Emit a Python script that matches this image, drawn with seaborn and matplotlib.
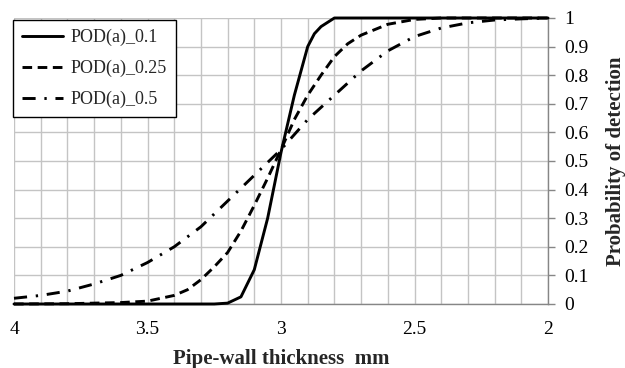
import matplotlib
matplotlib.use("Agg")
import matplotlib.pyplot as plt
import seaborn as sns
import numpy as np
import pandas as pd
from matplotlib.lines import Line2D
from matplotlib.ticker import MultipleLocator, FuncFormatter

# ---- data ----
x_01 = [4.0, 3.5, 3.25, 3.2, 3.15, 3.1, 3.05, 3.0, 2.95, 2.9, 2.875, 2.85, 2.8, 2.5, 2.0]
pod_01 = [0.0, 0.0, 0.0, 0.003, 0.025, 0.12, 0.30, 0.53, 0.73, 0.90, 0.945, 0.97, 1.0, 1.0, 1.0]

x_025 = [4.0, 3.8, 3.6, 3.5, 3.45, 3.4, 3.35, 3.3, 3.25, 3.2, 3.15, 3.1, 3.05, 3.0,
         2.95, 2.9, 2.85, 2.8, 2.75, 2.7, 2.6, 2.5, 2.4, 2.0]
pod_025 = [0.0, 0.001, 0.005, 0.01, 0.02, 0.03, 0.05, 0.085, 0.13, 0.18, 0.255, 0.345,
           0.44, 0.54, 0.645, 0.73, 0.80, 0.865, 0.91, 0.94, 0.978, 0.995, 1.0, 1.0]

x_05 = [4.0, 3.9, 3.8, 3.7, 3.6, 3.5, 3.4, 3.3, 3.2, 3.1, 3.0, 2.9, 2.8, 2.7,
        2.6, 2.5, 2.4, 2.3, 2.2, 2.1, 2.0]
pod_05 = [0.02, 0.03, 0.045, 0.07, 0.10, 0.145, 0.20, 0.27, 0.36, 0.45, 0.54, 0.645,
          0.73, 0.815, 0.885, 0.935, 0.965, 0.983, 0.993, 0.997, 1.0]

series_names = ["POD(a)_0.1", "POD(a)_0.25", "POD(a)_0.5"]

# ---- style ----
sns.set_theme(style="white")
plt.rcParams['font.family'] = ['Liberation Serif', 'DejaVu Serif']

fig = plt.figure(figsize=(6.25, 3.68), dpi=100)
ax = fig.add_axes([14/625, 1-304/368, (548-14)/625, (304-18)/368])

dash_styles = [None, (3.3, 1.9), (4.5, 3.0, 0.8, 3.0)]
series = [(x_01, pod_01), (x_025, pod_025), (x_05, pod_05)]
handles = []
for (xs, ys), name, ds in zip(series, series_names, dash_styles):
    df = pd.DataFrame({"thickness": xs, "pod": ys})
    before = len(ax.lines)
    sns.lineplot(data=df, x="thickness", y="pod", ax=ax, color="black",
                 linewidth=2.1, sort=False, estimator=None, clip_on=False, zorder=3)
    ln = ax.lines[before]
    if ds is not None:
        ln.set_dashes(ds)
    h = Line2D([], [], color="black", linewidth=2.1)
    if ds is not None:
        h.set_dashes(ds)
    handles.append(h)

ax.set_xlim(4, 2)
ax.set_ylim(0, 1)

ax.xaxis.set_major_locator(MultipleLocator(0.5))
ax.xaxis.set_minor_locator(MultipleLocator(0.1))
ax.yaxis.set_major_locator(MultipleLocator(0.1))
ax.xaxis.set_major_formatter(FuncFormatter(lambda v, p: f"{v:g}"))
ax.yaxis.set_major_formatter(FuncFormatter(lambda v, p: f"{v:g}"))

ax.grid(True, which="both", axis="x", color="#c4c4c4", linewidth=1.0)
ax.grid(True, which="major", axis="y", color="#c4c4c4", linewidth=1.0)
ax.set_axisbelow(True)

ax.yaxis.tick_right()
ax.yaxis.set_label_position("right")
ax.tick_params(axis="y", which="major", direction="out", length=5, width=1,
               color="#868686", labelsize=14, pad=7, labelcolor="black")
ax.tick_params(axis="x", which="major", direction="out", length=6, width=1,
               color="#868686", labelsize=14, pad=6, labelcolor="black")
ax.tick_params(axis="x", which="minor", length=0)

for s in ["left", "top"]:
    ax.spines[s].set_visible(False)
for s in ["right", "bottom"]:
    ax.spines[s].set_visible(True)
    ax.spines[s].set_color("#868686")
    ax.spines[s].set_linewidth(1.0)

ax.set_xlabel("Pipe-wall thickness  mm", fontsize=15, fontweight="bold", labelpad=8)
ax.set_ylabel("Probability of detection", fontsize=15, fontweight="bold", labelpad=12)

leg = ax.legend(handles, series_names, loc="upper left", bbox_to_anchor=(-0.002, 0.993),
                fontsize=13, frameon=True, fancybox=False, edgecolor="black",
                handlelength=2.3, handletextpad=0.4, labelspacing=0.75,
                borderpad=0.5, borderaxespad=0)
leg.get_frame().set_linewidth(1.0)
leg.get_frame().set_facecolor("white")
leg.get_frame().set_alpha(1)

fig.savefig("out.png", dpi=100)
